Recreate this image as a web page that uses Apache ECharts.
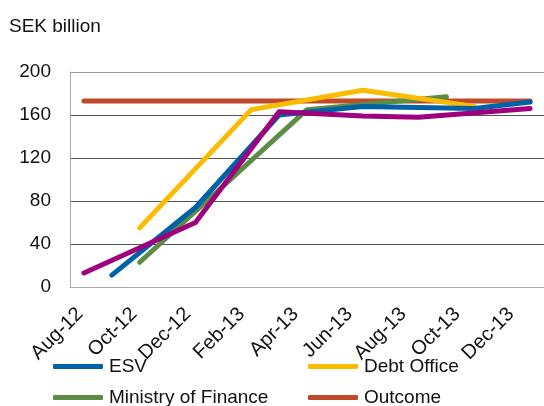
<!DOCTYPE html>
<html>
<head>
<meta charset="utf-8">
<script src="https://cdn.jsdelivr.net/npm/echarts@6/dist/echarts.min.js"></script>
<style>
  html, body { margin: 0; padding: 0; background: #fff; }
  #chart { width: 544px; height: 406px; }
</style>
</head>
<body>
<div id="chart"></div>
<script>
// Monthly forecasts of the budget figure, SEK billion (null = no forecast that month)
const months = ['Aug-12', 'Sep-12', 'Oct-12', 'Nov-12', 'Dec-12', 'Jan-13', 'Feb-13', 'Mar-13', 'Apr-13',
  'May-13', 'Jun-13', 'Jul-13', 'Aug-13', 'Sep-13', 'Oct-13', 'Nov-13', 'Dec-13'];
const esv = [null, 11, null, null, 74, null, null, 160, null, null, 168, null, null, null, 166, null, 172];
const debtOffice = [null, null, 55, null, null, null, 165, null, null, null, 183, null, null, null, 168, null, null];
const ministryOfFinance = [null, null, 23, null, null, null, null, null, 165, null, null, null, null, 177, null, null, null];
const outcome = [173, 173, 173, 173, 173, 173, 173, 173, 173, 173, 173, 173, 173, 173, 173, 173, 173];
const otherForecast = [13, null, null, null, 60, null, null, 163, null, null, 159, null, 158, null, null, null, 166];
const yTicks = [0, 40, 80, 120, 160, 200];

const FONT = '"Liberation Sans", Arial, sans-serif';
const chart = echarts.init(document.getElementById('chart'));

function lineSeries(name, data, color, z) {
  return {
    name: name,
    type: 'line',
    data: data,
    connectNulls: true,
    showSymbol: false,
    symbol: 'none',
    z: z,
    lineStyle: { color: color, width: 5, cap: 'round', join: 'round' },
    itemStyle: { color: color }
  };
}

// one legend block per entry, laid out as a 2 x 2 table
function legendItem(name, left, top) {
  return {
    left: left, top: top,
    itemWidth: 50, itemHeight: 5, itemGap: 0,
    icon: 'roundRect',
    textStyle: { fontFamily: FONT, fontSize: 19, color: '#111', padding: [0, 0, 0, 1] },
    data: [name]
  };
}

chart.setOption({
  animation: false,
  title: {
    text: 'SEK billion',
    left: 4,
    top: 12,
    textStyle: { fontFamily: FONT, fontSize: 19, fontWeight: 'normal', color: '#111' }
  },
  grid: [
    // plotting area
    { left: 70, top: 72, right: -4, bottom: 119, containLabel: false },
    // band carrying the month labels, a little narrower than the plot
    { left: 66.5, top: 72, right: 19.5, bottom: 119, containLabel: false }
  ],
  legend: [
    legendItem('ESV', 48, 352),
    legendItem('Debt Office', 303, 352),
    legendItem('Ministry of Finance', 48, 383),
    legendItem('Outcome', 303, 383)
  ],
  xAxis: [
    {
      type: 'category',
      gridIndex: 0,
      data: months,
      boundaryGap: true,
      axisLine: { show: true, lineStyle: { color: '#aaa', width: 1 } },
      axisTick: { show: false },
      axisLabel: { show: false }
    },
    {
      type: 'category',
      gridIndex: 1,
      data: months,
      boundaryGap: true,
      axisLine: { show: false },
      axisTick: { show: false },
      splitLine: { show: false },
      axisLabel: {
        interval: 1,
        rotate: 45,
        margin: 24,
        fontFamily: FONT,
        fontSize: 20,
        color: '#111'
      }
    }
  ],
  yAxis: [
    {
      type: 'value',
      gridIndex: 0,
      min: yTicks[0],
      max: yTicks[yTicks.length - 1],
      interval: 40,
      axisLine: { show: true, lineStyle: { color: '#aaa', width: 1 } },
      axisTick: { show: false },
      axisLabel: { margin: 19, fontFamily: FONT, fontSize: 19, color: '#111' },
      splitLine: {
        show: true,
        lineStyle: { color: ['#aaa', '#555', '#555', '#555', '#555', '#999'], width: 1 }
      }
    },
    {
      type: 'value',
      gridIndex: 1,
      min: yTicks[0],
      max: yTicks[yTicks.length - 1],
      show: false
    }
  ],
  series: [
    lineSeries('Outcome', outcome, '#c0492b', 2),
    lineSeries('Ministry of Finance', ministryOfFinance, '#5b8d45', 3),
    lineSeries('Debt Office', debtOffice, '#fbbb00', 4),
    lineSeries('ESV', esv, '#0062a6', 5),
    lineSeries('Forecast', otherForecast, '#9e007e', 6)
  ]
});
</script>
</body>
</html>
